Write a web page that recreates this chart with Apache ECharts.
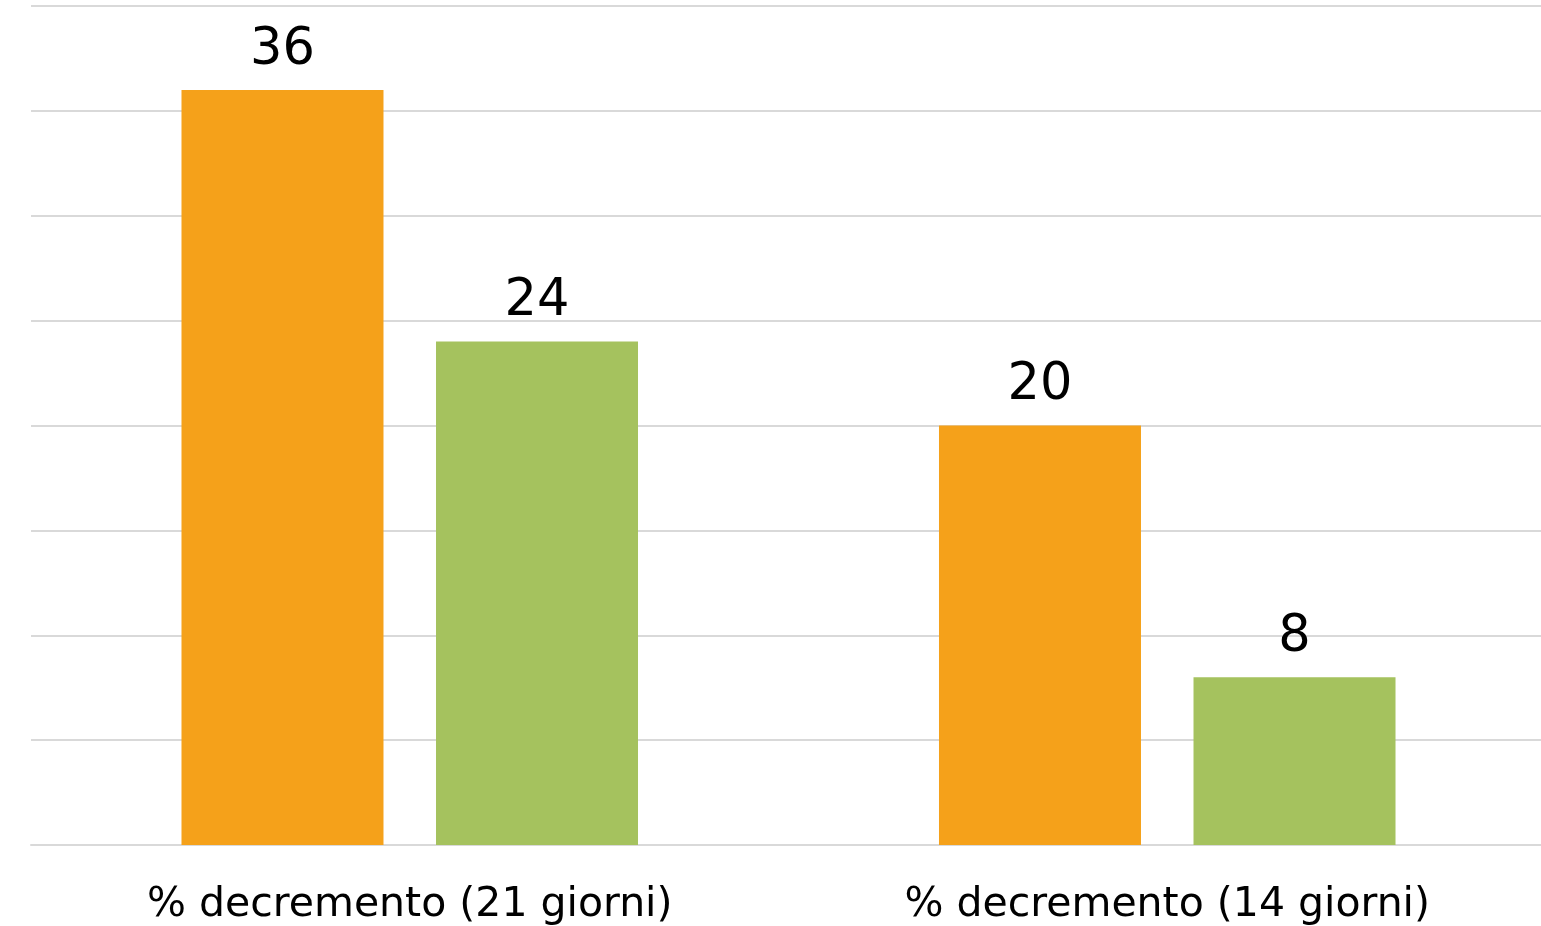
<!DOCTYPE html>
<html><head><meta charset="utf-8">
<script src="https://cdn.jsdelivr.net/npm/echarts@6/dist/echarts.min.js"></script>
<style>html,body{margin:0;padding:0;background:#fff;overflow:hidden}#c{width:1546px;height:926px}</style>
</head><body><div id="c"></div>
<script>
const categories = ['% decremento (21 giorni)', '% decremento (14 giorni)'];
const seriesA = [36, 20];
const seriesB = [24, 8];
const yMin = 0, yMax = 40, yInterval = 5;

const font = '"DejaVu Sans", sans-serif';
const chart = echarts.init(document.getElementById('c'));
const lbl = {show: true, position: 'top', distance: 14, color: '#000', fontSize: 51, fontFamily: font};
chart.setOption({
  animation: false,
  grid: {left: 31, right: 0, top: 6, bottom: 80, containLabel: false},
  xAxis: {type: 'category', data: categories,
    axisLine: {lineStyle: {color: '#d9d9d9', width: 2}}, axisTick: {show: false},
    axisLabel: {color: '#000', fontSize: 41, fontFamily: font, margin: 40}},
  yAxis: {type: 'value', min: yMin, max: yMax, interval: yInterval,
    axisLabel: {show: false}, axisLine: {show: false}, axisTick: {show: false},
    splitLine: {lineStyle: {color: '#d9d9d9', width: 2}}},
  series: [
    {type: 'bar', data: seriesA, barWidth: 202, barGap: '26%', itemStyle: {color: '#F5A11A'}, label: lbl},
    {type: 'bar', data: seriesB, barWidth: 202, itemStyle: {color: '#A5C25E'}, label: lbl}
  ]
});
</script></body></html>
